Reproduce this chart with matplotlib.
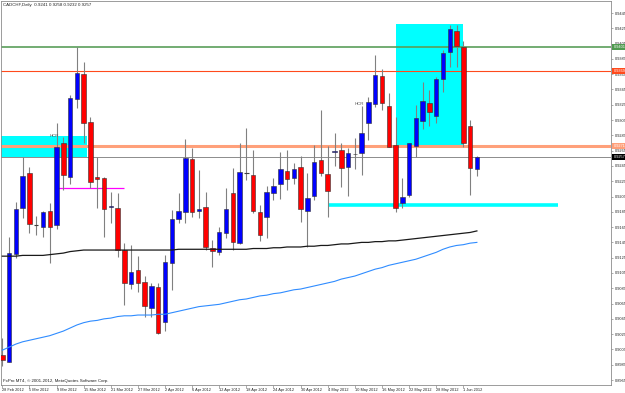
import numpy as np
import matplotlib.pyplot as plt
from matplotlib.patches import Rectangle
from matplotlib.transforms import blended_transform_factory

plt.rcParams['font.family'] = ['Liberation Sans', 'DejaVu Sans']

# CADCHF daily candles, 28 Feb 2012 .. 5 Jun 2012
opens = [0.8998, 0.8989, 0.9130, 0.9190, 0.9236, 0.9168, 0.9165, 0.9186, 0.9168, 0.9275,
         0.9231, 0.9333, 0.9365, 0.9302, 0.9231, 0.9229, 0.9191, 0.9190, 0.9135, 0.9091,
         0.9109, 0.9093, 0.9059, 0.9087, 0.9041, 0.9118, 0.9176, 0.9185, 0.9254, 0.9186,
         0.9191, 0.9138, 0.9132, 0.9157, 0.9210, 0.9144, 0.9236, 0.9233, 0.9185, 0.9178,
         0.9210, 0.9221, 0.9238, 0.9229, 0.9244, 0.9186, 0.9206, 0.9253, 0.9234, 0.9263,
         0.9266, 0.9244, 0.9260, 0.9262, 0.9301, 0.9326, 0.9363, 0.9323, 0.9272, 0.9197,
         0.9207, 0.9271, 0.9304, 0.9327, 0.9310, 0.9359, 0.9394, 0.9422, 0.9401, 0.9297,
         0.9241]
highs = [0.9020, 0.9152, 0.9198, 0.9257, 0.9244, 0.9180, 0.9186, 0.9197, 0.9301, 0.9283,
         0.9338, 0.9401, 0.9381, 0.9309, 0.9257, 0.9231, 0.9211, 0.9210, 0.9144, 0.9142,
         0.9127, 0.9101, 0.9092, 0.9092, 0.9129, 0.9187, 0.9210, 0.9280, 0.9268, 0.9240,
         0.9211, 0.9148, 0.9165, 0.9216, 0.9242, 0.9275, 0.9295, 0.9266, 0.9194, 0.9219,
         0.9229, 0.9263, 0.9266, 0.9249, 0.9258, 0.9236, 0.9272, 0.9318, 0.9271, 0.9288,
         0.9275, 0.9268, 0.9282, 0.9323, 0.9335, 0.9390, 0.9372, 0.9340, 0.9309, 0.9229,
         0.9275, 0.9325, 0.9355, 0.9344, 0.9361, 0.9397, 0.9429, 0.9429, 0.9408, 0.9305,
         0.9258]
lows = [0.8983, 0.8988, 0.9125, 0.9177, 0.9157, 0.9155, 0.9152, 0.9118, 0.9163, 0.9214,
        0.9221, 0.9321, 0.9275, 0.9216, 0.9190, 0.9152, 0.9170, 0.9126, 0.9063, 0.9084,
        0.9080, 0.9047, 0.9047, 0.9025, 0.9029, 0.9083, 0.9170, 0.9170, 0.9178, 0.9177,
        0.9135, 0.9113, 0.9128, 0.9151, 0.9135, 0.9143, 0.9227, 0.9183, 0.9147, 0.9151,
        0.9200, 0.9202, 0.9214, 0.9221, 0.9172, 0.9139, 0.9200, 0.9232, 0.9178, 0.9245,
        0.9217, 0.9206, 0.9241, 0.9233, 0.9279, 0.9322, 0.9318, 0.9270, 0.9185, 0.9190,
        0.9204, 0.9257, 0.9293, 0.9297, 0.9301, 0.9342, 0.9374, 0.9374, 0.9270, 0.9207,
        0.9232]
closes = [0.8991, 0.9131, 0.9189, 0.9232, 0.9169, 0.9168, 0.9185, 0.9165, 0.9270, 0.9233,
          0.9334, 0.9367, 0.9301, 0.9224, 0.9228, 0.9189, 0.9193, 0.9135, 0.9092, 0.9106,
          0.9092, 0.9062, 0.9088, 0.9027, 0.9119, 0.9176, 0.9186, 0.9255, 0.9185, 0.9189,
          0.9139, 0.9134, 0.9159, 0.9189, 0.9146, 0.9237, 0.9236, 0.9186, 0.9155, 0.9211,
          0.9219, 0.9241, 0.9228, 0.9241, 0.9189, 0.9203, 0.9250, 0.9236, 0.9212, 0.9264,
          0.9242, 0.9262, 0.9261, 0.9288, 0.9329, 0.9364, 0.9327, 0.9270, 0.9190, 0.9204,
          0.9275, 0.9308, 0.9330, 0.9316, 0.9359, 0.9393, 0.9424, 0.9402, 0.9275, 0.9242,
          0.9257]

# moving averages (black = slow, blue = slower)
ma_black = [0.9127, 0.9127, 0.9127, 0.9128, 0.9128, 0.9128, 0.9128, 0.9129, 0.9130, 0.9131,
            0.9133, 0.9134, 0.9135, 0.9135, 0.9135, 0.9135, 0.9135, 0.9135, 0.9135, 0.9135,
            0.9135, 0.9135, 0.9135, 0.9135, 0.9135, 0.9135, 0.9136, 0.9136, 0.9136, 0.9136,
            0.9136, 0.9136, 0.9136, 0.9136, 0.9136, 0.9136, 0.9136, 0.9137, 0.9137, 0.9137,
            0.9138, 0.9138, 0.9139, 0.9139, 0.9139, 0.9140, 0.9140, 0.9141, 0.9141, 0.9142,
            0.9143, 0.9143, 0.9144, 0.9145, 0.9145, 0.9146, 0.9146, 0.9147, 0.9147, 0.9148,
            0.9149, 0.9150, 0.9151, 0.9152, 0.9153, 0.9154, 0.9155, 0.9156, 0.9157, 0.9158,
            0.9160]
ma_blue = [0.9004, 0.9008, 0.9012, 0.9015, 0.9017, 0.9019, 0.9021, 0.9023, 0.9026, 0.9029,
           0.9033, 0.9037, 0.9040, 0.9042, 0.9043, 0.9045, 0.9046, 0.9048, 0.9049, 0.9049,
           0.9050, 0.9050, 0.9050, 0.9051, 0.9051, 0.9053, 0.9055, 0.9057, 0.9059, 0.9061,
           0.9062, 0.9063, 0.9064, 0.9066, 0.9068, 0.9070, 0.9071, 0.9073, 0.9075, 0.9076,
           0.9078, 0.9079, 0.9081, 0.9083, 0.9084, 0.9086, 0.9088, 0.9090, 0.9092, 0.9094,
           0.9097, 0.9099, 0.9101, 0.9104, 0.9107, 0.9110, 0.9112, 0.9115, 0.9117, 0.9119,
           0.9121, 0.9123, 0.9126, 0.9129, 0.9132, 0.9136, 0.9139, 0.9141, 0.9142, 0.9144,
           0.9145]

date_labels = ['28 Feb 2012', '5 Mar 2012', '9 Mar 2012', '15 Mar 2012', '21 Mar 2012',
               '27 Mar 2012', '2 Apr 2012', '6 Apr 2012', '12 Apr 2012', '18 Apr 2012',
               '24 Apr 2012', '30 Apr 2012', '4 May 2012', '10 May 2012', '16 May 2012',
               '22 May 2012', '28 May 2012', '1 Jun 2012']
date_bars = list(range(0, 69, 4))

# drawn objects: levels and zones
green_level = 0.9401
red_level = 0.9369
salmon_level = 0.9271
bid = 0.9257
zone_left = (-1.0, 12.5, 0.9257, 0.9284)     # bar from, bar to, low, high
zone_right = (58.0, 68.0, 0.9272, 0.9431)
magenta_line = (8.0, 18.0, 0.9216)
cyan_line = (48.0, 82.0, 0.91945)
title = 'CADCHF,Daily  0.9241 0.9258 0.9232 0.9257'

fig = plt.figure(figsize=(6.25, 3.93), dpi=100)
ax = fig.add_axes([1 / 625, 8 / 393, 610 / 625, 384 / 393])
ax.set_xlim(-0.19, 89.78)
ax.set_ylim(0.89585, 0.94607)

x = np.arange(len(opens))
o = np.array(opens)
c = np.array(closes)

# zones
for x0, x1, lo, hi in (zone_left, zone_right):
    ax.add_patch(Rectangle((x0, lo), x1 - x0, hi - lo, facecolor='#00FFFF', edgecolor='none', zorder=1))

# horizontal lines
ax.axhline(green_level, color='#5a9e5a', lw=1.2, zorder=2)
ax.axhline(red_level, color='#ff4a1c', lw=0.8, zorder=2)
ax.axhline(salmon_level, color='#ffa07a', lw=2.2, zorder=2)
ax.axhline(bid, color='#8c8c8c', lw=0.7, zorder=2)
ax.hlines(magenta_line[2], magenta_line[0], magenta_line[1], color='#ff00ff', lw=0.9, zorder=2)
ax.hlines(cyan_line[2], cyan_line[0], cyan_line[1], color='#00FFFF', lw=2.6, zorder=2)

# candles
ax.vlines(x, lows, highs, color='#808080', lw=0.8, zorder=3)
up = c > o
down = c < o
flat = c == o
w = 0.66
ax.bar(x[up], (c - o)[up], w, bottom=o[up], color='#0000ff', edgecolor='#303030', lw=0.4, zorder=4)
ax.bar(x[down], (o - c)[down], w, bottom=c[down], color='#ff0000', edgecolor='#303030', lw=0.4, zorder=4)
ax.hlines(o[flat], x[flat] - w / 2, x[flat] + w / 2, color='#404040', lw=0.8, zorder=4)

# moving averages
ax.plot(x, ma_black, color='#1a1a1a', lw=0.9, zorder=5)
ax.plot(x, ma_blue, color='#2f8cff', lw=0.8, zorder=5)

# labels on the chart
ax.text(7.0, 0.92845, 'HCR', fontsize=3.2, color='#555555', va='center', ha='left', zorder=6)
ax.text(51.9, 0.9326, 'HCR', fontsize=3.2, color='#555555', va='center', ha='left', zorder=6)
ax.text(0.004, 0.0065, 'FxPro MT4, \u00a9 2001-2012, MetaQuotes Software Corp.', transform=ax.transAxes,
        fontsize=3.2, va='bottom', ha='left', color='#222222')
fig.text(3 / 625, 1 - 5 / 393, title, fontsize=3.2, va='center', ha='left', color='#222222')

# axes styling
for s in ax.spines.values():
    s.set_color('#8c8c8c')
    s.set_linewidth(0.6)
ax.yaxis.tick_right()
yt = np.round(np.arange(0.8965, 0.9446, 0.002), 4)
ax.set_yticks(yt)
ax.set_yticklabels([f'{v:.4f}' for v in yt])
ax.tick_params(axis='y', labelsize=2.8, length=1.5, width=0.5, pad=1, colors='#8c8c8c', labelcolor='#222222')
ax.set_xticks(date_bars)
ax.set_xticklabels(date_labels, ha='left')
ax.tick_params(axis='x', labelsize=2.8, length=2, width=0.5, pad=0.5, colors='#8c8c8c', labelcolor='#222222')

# coloured price tags on the right scale
tr = blended_transform_factory(ax.transAxes, ax.transData)
for lvl, col in ((green_level, '#4f9a4f'), (red_level, '#ff4a1c'), (salmon_level, '#ffa07a'), (bid, '#000000')):
    ax.text(1.004, lvl, f'{lvl:.4f}', transform=tr, fontsize=2.8, color='white', va='center', ha='left',
            bbox=dict(boxstyle='square,pad=0.25', fc=col, ec='none'), clip_on=False, zorder=7)

fig.savefig('out.png', dpi=100)
